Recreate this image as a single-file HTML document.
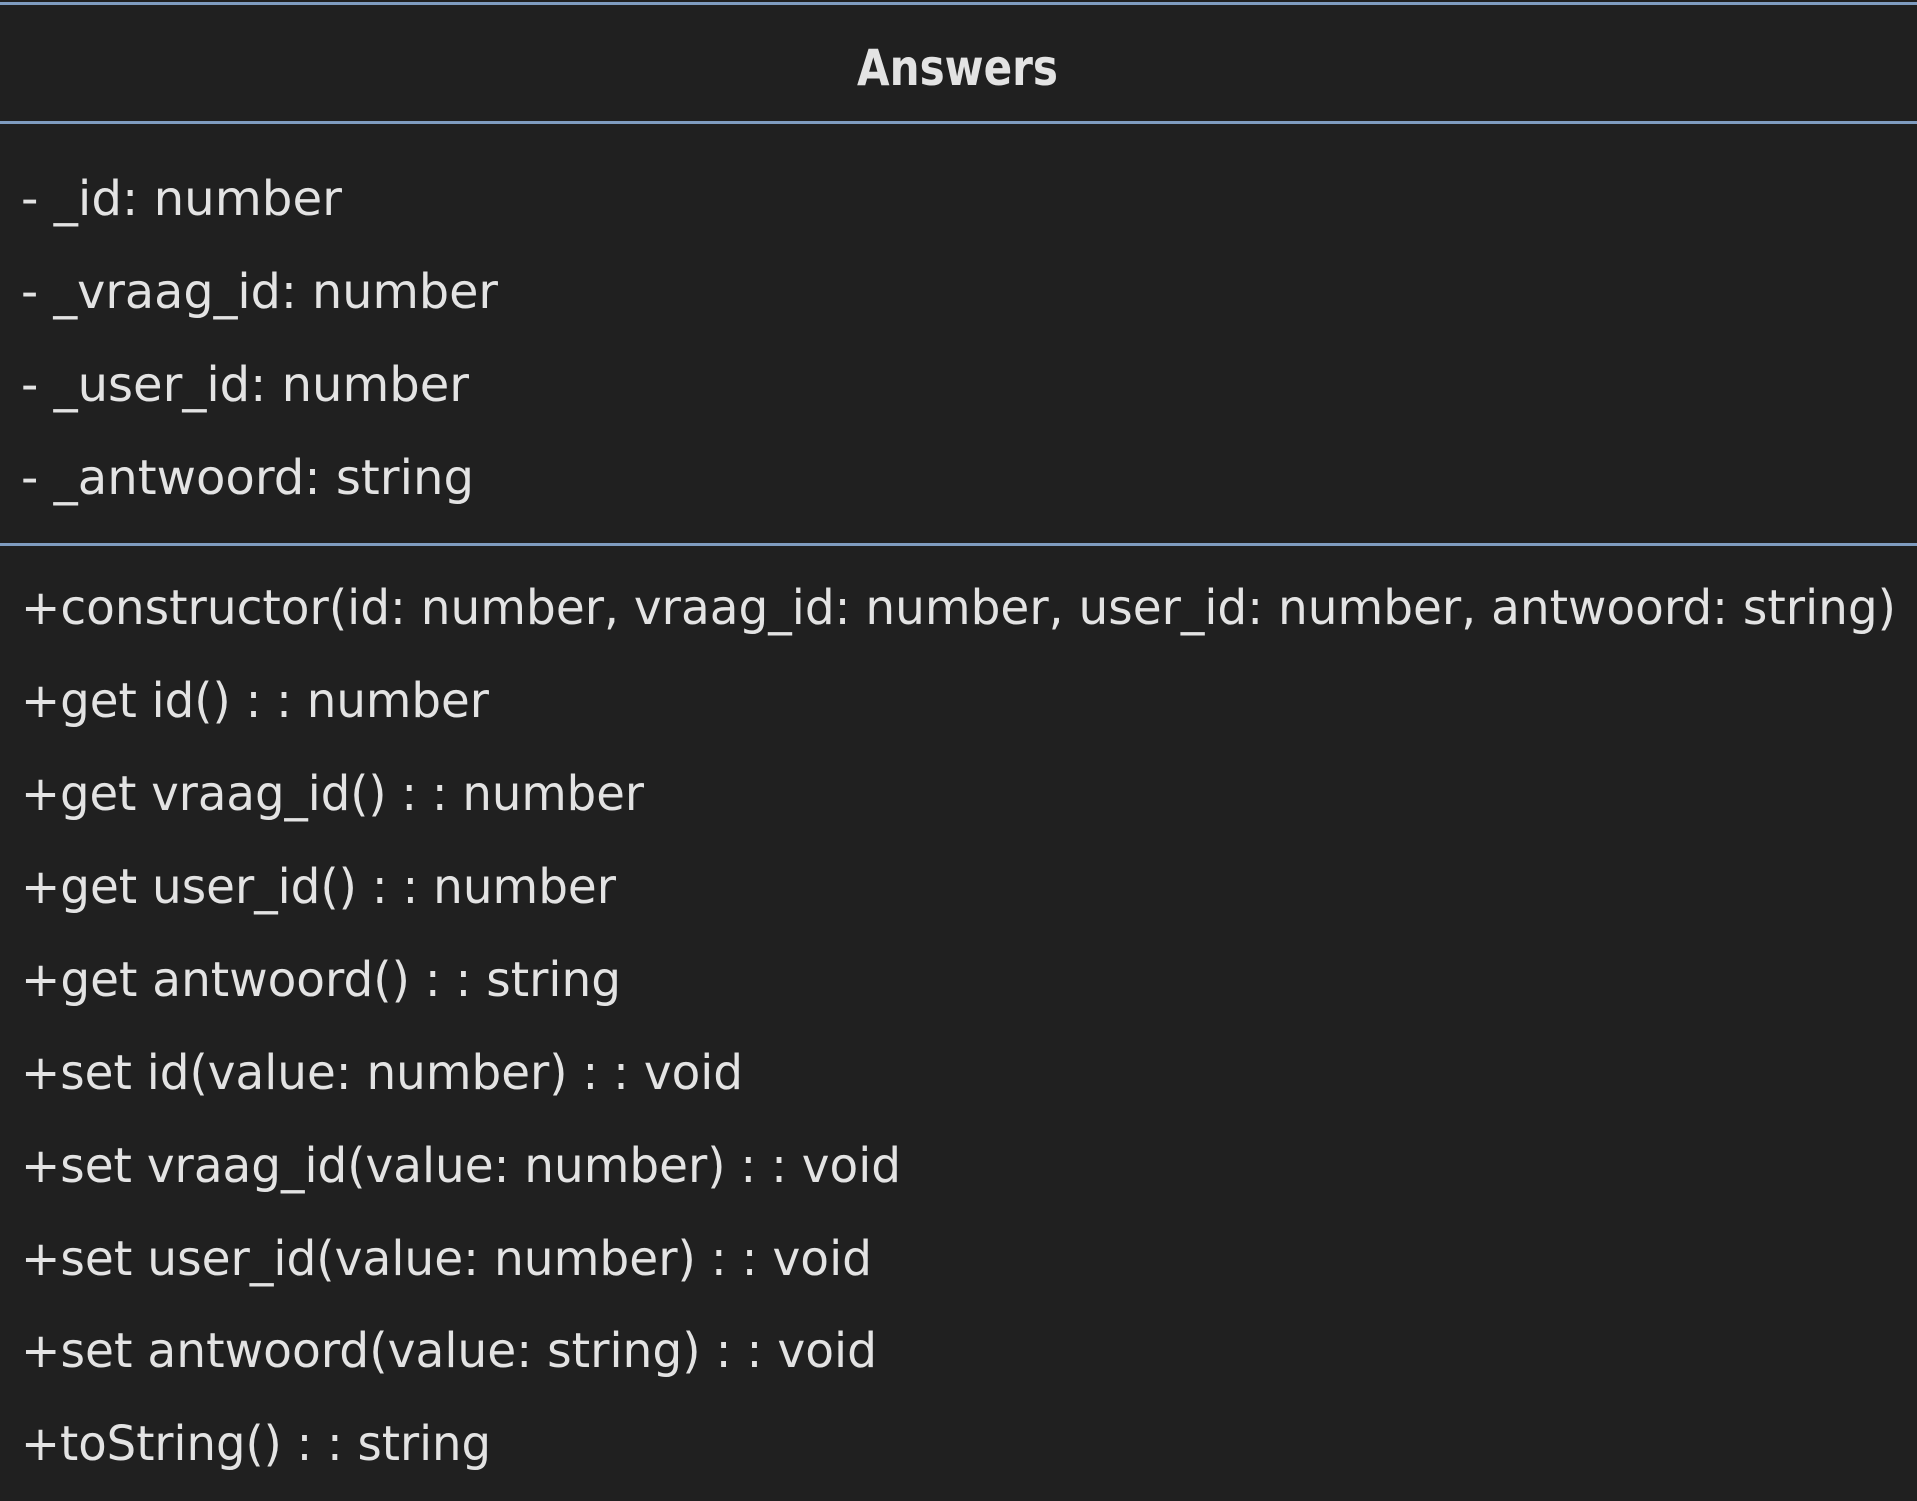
<!DOCTYPE html>
<html><head><meta charset="utf-8"><style>
html,body{margin:0;padding:0;background:#202020;}
svg{display:block;}
text{font-family:"DejaVu Sans","Liberation Sans",sans-serif;fill:#e3e3e3;font-size:48px;}
</style></head><body>
<svg width="1917" height="1501" viewBox="0 0 1917 1501" xmlns="http://www.w3.org/2000/svg">
<rect width="1917" height="1501" fill="#202020"/>
<rect x="0" y="2" width="1917" height="3" fill="#7f9cc0"/>
<rect x="0" y="121" width="1917" height="3" fill="#7f9cc0"/>
<rect x="0" y="543" width="1917" height="3" fill="#7f9cc0"/>
<text x="857" y="85" font-weight="bold" style="font-size:50px" textLength="201" lengthAdjust="spacingAndGlyphs">Answers</text>
<text x="21" y="215" textLength="321" lengthAdjust="spacingAndGlyphs">- _id: number</text>
<text x="21" y="308" textLength="477" lengthAdjust="spacingAndGlyphs">- _vraag_id: number</text>
<text x="21" y="401" textLength="448" lengthAdjust="spacingAndGlyphs">- _user_id: number</text>
<text x="21" y="494" textLength="453" lengthAdjust="spacingAndGlyphs">- _antwoord: string</text>
<text x="21" y="624" textLength="1875" lengthAdjust="spacingAndGlyphs">+constructor(id: number, vraag_id: number, user_id: number, antwoord: string)</text>
<text x="21" y="717" textLength="468" lengthAdjust="spacingAndGlyphs">+get id() : : number</text>
<text x="21" y="810" textLength="623" lengthAdjust="spacingAndGlyphs">+get vraag_id() : : number</text>
<text x="21" y="903" textLength="595" lengthAdjust="spacingAndGlyphs">+get user_id() : : number</text>
<text x="21" y="996" textLength="600" lengthAdjust="spacingAndGlyphs">+get antwoord() : : string</text>
<text x="21" y="1089" textLength="722" lengthAdjust="spacingAndGlyphs">+set id(value: number) : : void</text>
<text x="21" y="1182" textLength="880" lengthAdjust="spacingAndGlyphs">+set vraag_id(value: number) : : void</text>
<text x="21" y="1275" textLength="851" lengthAdjust="spacingAndGlyphs">+set user_id(value: number) : : void</text>
<text x="21" y="1367" textLength="856" lengthAdjust="spacingAndGlyphs">+set antwoord(value: string) : : void</text>
<text x="21" y="1460" textLength="470" lengthAdjust="spacingAndGlyphs">+toString() : : string</text>
</svg>
</body></html>
